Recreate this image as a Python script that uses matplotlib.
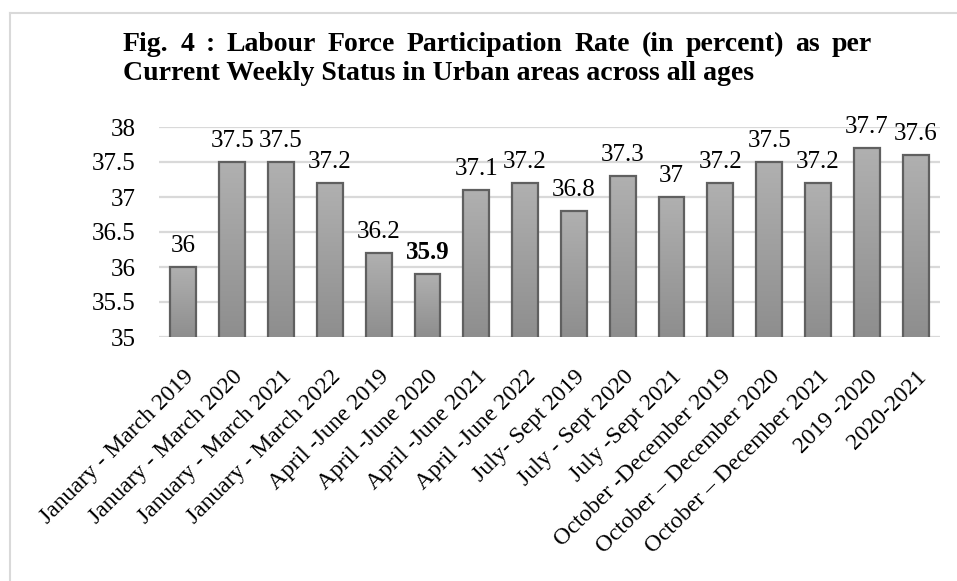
import numpy as np
import matplotlib
matplotlib.use("Agg")
import matplotlib.pyplot as plt
from matplotlib.lines import Line2D

plt.rcParams['font.family'] = ['Liberation Serif', 'DejaVu Serif']

# quarters / years and LFPR values (urban, all ages)
periods = ["January - March 2019", "January - March 2020", "January - March 2021",
           "January - March 2022", "April -June 2019", "April -June 2020",
           "April -June 2021", "April -June 2022", "July- Sept 2019",
           "July - Sept 2020", "July -Sept 2021", "October -December 2019",
           "October \u2013 December 2020", "October \u2013 December 2021",
           "2019 -2020", "2020-2021"]
lfpr = [36, 37.5, 37.5, 37.2, 36.2, 35.9, 37.1, 37.2, 36.8,
        37.3, 37, 37.2, 37.5, 37.2, 37.7, 37.6]
yticks = [35, 35.5, 36, 36.5, 37, 37.5, 38]
bold_label = 5  # lowest value is highlighted

W, H = 957, 581
fig = plt.figure(figsize=(W / 100, H / 100), dpi=100, facecolor='white')
ax = fig.add_axes([159 / W, 1 - 337 / H, 781 / W, 210 / H])

x = np.arange(len(periods))
bars = ax.bar(x, lfpr, width=0.53, color='none',
              edgecolor='#606060', linewidth=1.6, zorder=3)

# vertical grey gradient inside each bar
grad = np.linspace(0, 1, 256).reshape(-1, 1)
cmap = matplotlib.colors.LinearSegmentedColormap.from_list('g', ['#8e8e8e', '#b0b0b0'])
for b in bars:
    x0, w, h = b.get_x(), b.get_width(), b.get_height()
    im = ax.imshow(grad, cmap=cmap, origin='lower', aspect='auto',
                   extent=[x0, x0 + w, 35, h], zorder=2)
    im.set_clip_path(b)

ax.set_xlim(-0.5, len(periods) - 0.5)
ax.set_ylim(35, 38)
ax.set_yticks(yticks)
ax.set_yticklabels(["%g" % v for v in yticks], fontsize=18)
ax.yaxis.grid(True, color='#d9d9d9', linewidth=1.6, zorder=0)
ax.set_axisbelow(True)
for s in ax.spines.values():
    s.set_visible(False)
ax.tick_params(axis='both', length=0)
ax.tick_params(axis='y', pad=17)

ax.set_xticks(x)
ax.set_xticklabels(periods, rotation=45, ha='right', va='top',
                   rotation_mode='anchor', fontsize=17)
ax.tick_params(axis='x', pad=21)

for i, (xi, v) in enumerate(zip(x, lfpr)):
    ax.annotate("%g" % v, (xi, v), xytext=(0, 7), textcoords='offset points',
                ha='center', va='bottom', fontsize=18,
                fontweight='bold' if i == bold_label else 'normal')


def justified(line, y, left, right, **kw):
    # spread the words of one line evenly between left and right (pixels)
    words = line.split()
    texts = [fig.text(0, 1 - y / H, wd, va='baseline', ha='left', **kw) for wd in words]
    r = fig.canvas.get_renderer()
    widths = [t.get_window_extent(r).width for t in texts]
    gap = (right - left - sum(widths)) / (len(words) - 1)
    pos = left
    for t, wd in zip(texts, widths):
        t.set_x(pos / W)
        pos += wd + gap


justified("Fig. 4 : Labour Force Participation Rate (in percent) as per",
          51, 123, 872, fontsize=20, fontweight='bold')
fig.text(123 / W, 1 - 80 / H,
         "Current Weekly Status in Urban areas across all ages",
         fontsize=20, fontweight='bold', va='baseline', ha='left')

# light frame along top and left edges
fig.add_artist(Line2D([10 / W, 1], [1 - 13 / H] * 2, color='#d9d9d9', lw=1.5))
fig.add_artist(Line2D([10 / W] * 2, [0, 1 - 13 / H], color='#d9d9d9', lw=1.5))

fig.savefig("out.png", dpi=100, facecolor='white')
